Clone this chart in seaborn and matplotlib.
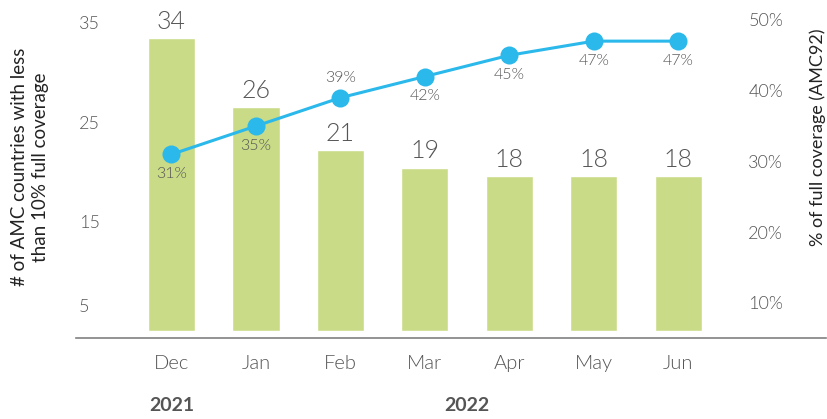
import numpy as np
import matplotlib
matplotlib.use("Agg")
import matplotlib.pyplot as plt
import matplotlib.transforms as mtransforms
import seaborn as sns

# data
months = ["Dec", "Jan", "Feb", "Mar", "Apr", "May", "Jun"]
countries_low = [34, 26, 21, 19, 18, 18, 18]
coverage_pct = [31, 35, 39, 42, 45, 47, 47]
pct_above = [False, False, True, False, False, False, False]
years = ["2021", "2022"]
year_centers = [0, 3.5]
left_tick_labels = ["5", "15", "25", "35"]
left_tick_pos = [3.0, 12.7, 24.2, 35.9]
right_ticks = [10, 20, 30, 40, 50]

BAR = "#c9db87"
LINE = "#2bb8ea"
TXT = "#555555"

sns.set_style("white")
plt.rcParams["font.family"] = ["Lato", "DejaVu Sans"]
plt.rcParams["font.weight"] = 300

fig = plt.figure(figsize=(8.27, 4.19), dpi=100)
ax = fig.add_axes([76 / 827, (419 - 338) / 419, 750 / 827, 328 / 419])

pos = np.arange(len(months))
sns.barplot(x=pos, y=countries_low, color=BAR, width=0.56, saturation=1,
            ax=ax, native_scale=True)
ax.set_xlim(-1.13, 7.75)
ax.set_ylim(-0.81, 37.3)

for x, v in zip(pos, countries_low):
    ax.annotate(str(v), (x, v), xytext=(0, 3), textcoords="offset points",
                ha="center", va="bottom", fontsize=18, color=TXT)

ax.set_xticks(pos)
ax.set_xticklabels(months, fontsize=14.5, color=TXT)
ax.set_yticks(left_tick_pos)
ax.set_yticklabels(left_tick_labels, fontsize=13, color=TXT, ha="left")
ax.tick_params(axis="x", length=0, pad=12)
ax.tick_params(axis="y", length=0, pad=-2)
ax.set_xlabel("")
ax.set_ylabel("")
for s in ["top", "left", "right"]:
    ax.spines[s].set_visible(False)
ax.spines["bottom"].set_color("#808080")
ax.spines["bottom"].set_linewidth(1.2)

ax2 = ax.twinx()
sns.lineplot(x=pos, y=coverage_pct, color=LINE, linewidth=2.2, marker="o",
             markersize=13, markeredgewidth=0, ax=ax2)
ax2.set_ylim(5.05, 51.4)
ax2.set_yticks(right_ticks)
ax2.set_yticklabels([f"{t}%" for t in right_ticks], fontsize=13, color=TXT, ha="left")
ax2.tick_params(axis="y", length=0, pad=-56)
ax2.set_ylabel("")
for s in ax2.spines.values():
    s.set_visible(False)

for x, v, up in zip(pos, coverage_pct, pct_above):
    off = 14 if up else -14
    ax2.annotate(f"{v}%", (x, v), xytext=(0, off), textcoords="offset points",
                 ha="center", va="center", fontsize=11.5, color=TXT)

trans = mtransforms.blended_transform_factory(ax.transData, ax.transAxes)
for yr, xc in zip(years, year_centers):
    ax.text(xc, -0.207, yr, transform=trans, ha="center", va="center",
            fontsize=14, fontweight="bold", color=TXT)

fig.text(30 / 827, 1 - 167 / 419, "# of AMC countries with less\nthan 10% full coverage",
         rotation=90, ha="center", va="center", fontsize=13.5, color="#222222",
         fontweight="normal", linespacing=1.25)
fig.text(818 / 827, 1 - 137 / 419, "% of full coverage (AMC92)",
         rotation=90, ha="center", va="center", fontsize=13, color="#222222",
         fontweight="normal")

fig.savefig("out.png", dpi=100)
